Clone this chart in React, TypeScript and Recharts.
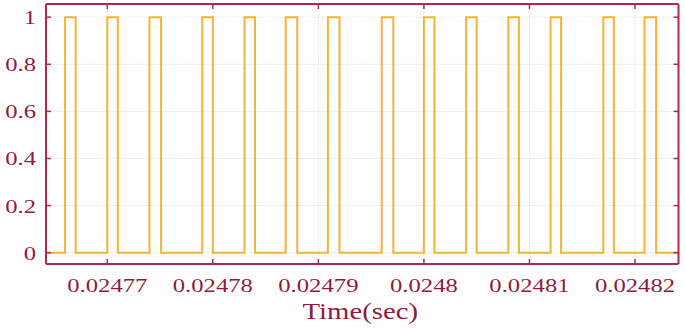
import { LineChart, Line, XAxis, YAxis, CartesianGrid } from 'recharts'

// pulse edges (seconds)
const riseTimes = [
  0.024766, 0.02477, 0.024774, 0.024779, 0.024783, 0.0247869, 0.0247909,
  0.024796, 0.0248, 0.024804, 0.024808, 0.024812, 0.024817, 0.0248209,
]
const fallTimes = [
  0.024767, 0.024771, 0.0247751, 0.02478, 0.024784, 0.024788, 0.024792,
  0.0247971, 0.024801, 0.024805, 0.024809, 0.024813, 0.024818, 0.024822,
]
const timeStart = 0.024764192
const timeEnd = 0.0248241217
const xTicks = [0.02477, 0.02478, 0.02479, 0.0248, 0.02481, 0.02482]
const yTicks = [0, 0.2, 0.4, 0.6, 0.8, 1]

const data = [{ t: timeStart, v: 0 }]
riseTimes.forEach((r, i) => {
  data.push({ t: r, v: 1 })
  data.push({ t: fallTimes[i], v: 0 })
})
data.push({ t: timeEnd, v: 0 })

const FRAME = '#b0284f'
const TEXT = '#8e1b3f'
const TRACE = '#f0b436'
const FONT = '"Liberation Serif", "Times New Roman", serif'

const BottomTick = ({ x, y, payload }: any) => (
  <g>
    <line x1={x} x2={x} y1={y} y2={y - 5} stroke={FRAME} strokeWidth={1.5} />
    <text
      transform={`translate(${x},${y + 28}) scale(1.3,1)`}
      textAnchor="middle"
      fill={TEXT}
      fontSize={19}
      fontFamily={FONT}
    >
      {String(payload.value)}
    </text>
  </g>
)

const TopTick = ({ x, y }: any) => (
  <line x1={x} x2={x} y1={y} y2={y + 5} stroke={FRAME} strokeWidth={1.5} />
)

const LeftTick = ({ x, y, payload }: any) => (
  <g>
    <line x1={x} x2={x + 5} y1={y} y2={y} stroke={FRAME} strokeWidth={1.5} />
    <text
      transform={`translate(${x - 10},${y + 7}) scale(1.3,1)`}
      textAnchor="end"
      fill={TEXT}
      fontSize={19}
      fontFamily={FONT}
    >
      {String(payload.value)}
    </text>
  </g>
)

const RightTick = ({ x, y }: any) => (
  <line x1={x} x2={x - 5} y1={y} y2={y} stroke={FRAME} strokeWidth={1.5} />
)

const TitleLabel = ({ viewBox }: any) => (
  <text
    transform={`translate(${viewBox.x + viewBox.width / 2 - 2},319) scale(1.25,1)`}
    textAnchor="middle"
    fill={TEXT}
    fontSize={23}
    fontFamily={FONT}
  >
    Time(sec)
  </text>
)

export default function App() {
  return (
    <div style={{ position: 'absolute', left: 0, top: 0, background: '#fff' }}>
      <LineChart
        width={685}
        height={329}
        data={data}
        margin={{ top: 3, right: 5.5, left: 0, bottom: 0 }}
      >
        <CartesianGrid stroke="#eeeeee" strokeWidth={1} />
        <XAxis
          dataKey="t"
          type="number"
          domain={[timeStart, timeEnd]}
          allowDataOverflow
          ticks={xTicks}
          height={65}
          tickSize={0}
          tickMargin={0}
          axisLine={{ stroke: FRAME, strokeWidth: 2 }}
          tickLine={false}
          tick={<BottomTick />}
          label={{ content: <TitleLabel /> }}
        />
        <XAxis
          xAxisId="top"
          orientation="top"
          dataKey="t"
          type="number"
          domain={[timeStart, timeEnd]}
          allowDataOverflow
          ticks={xTicks}
          height={1}
          tickSize={0}
          tickMargin={0}
          axisLine={{ stroke: FRAME, strokeWidth: 2 }}
          tickLine={false}
          tick={<TopTick />}
        />
        <YAxis
          type="number"
          domain={[-0.048, 1.056]}
          allowDataOverflow
          ticks={yTicks}
          width={46}
          tickSize={0}
          tickMargin={0}
          axisLine={{ stroke: FRAME, strokeWidth: 2 }}
          tickLine={false}
          tick={<LeftTick />}
        />
        <YAxis
          yAxisId="right"
          orientation="right"
          type="number"
          domain={[-0.048, 1.056]}
          allowDataOverflow
          ticks={yTicks}
          width={1}
          tickSize={0}
          tickMargin={0}
          axisLine={{ stroke: FRAME, strokeWidth: 2 }}
          tickLine={false}
          tick={<RightTick />}
        />
        <Line
          dataKey="v"
          type="stepAfter"
          stroke={TRACE}
          strokeWidth={2}
          dot={false}
          isAnimationActive={false}
        />
      </LineChart>
    </div>
  )
}
